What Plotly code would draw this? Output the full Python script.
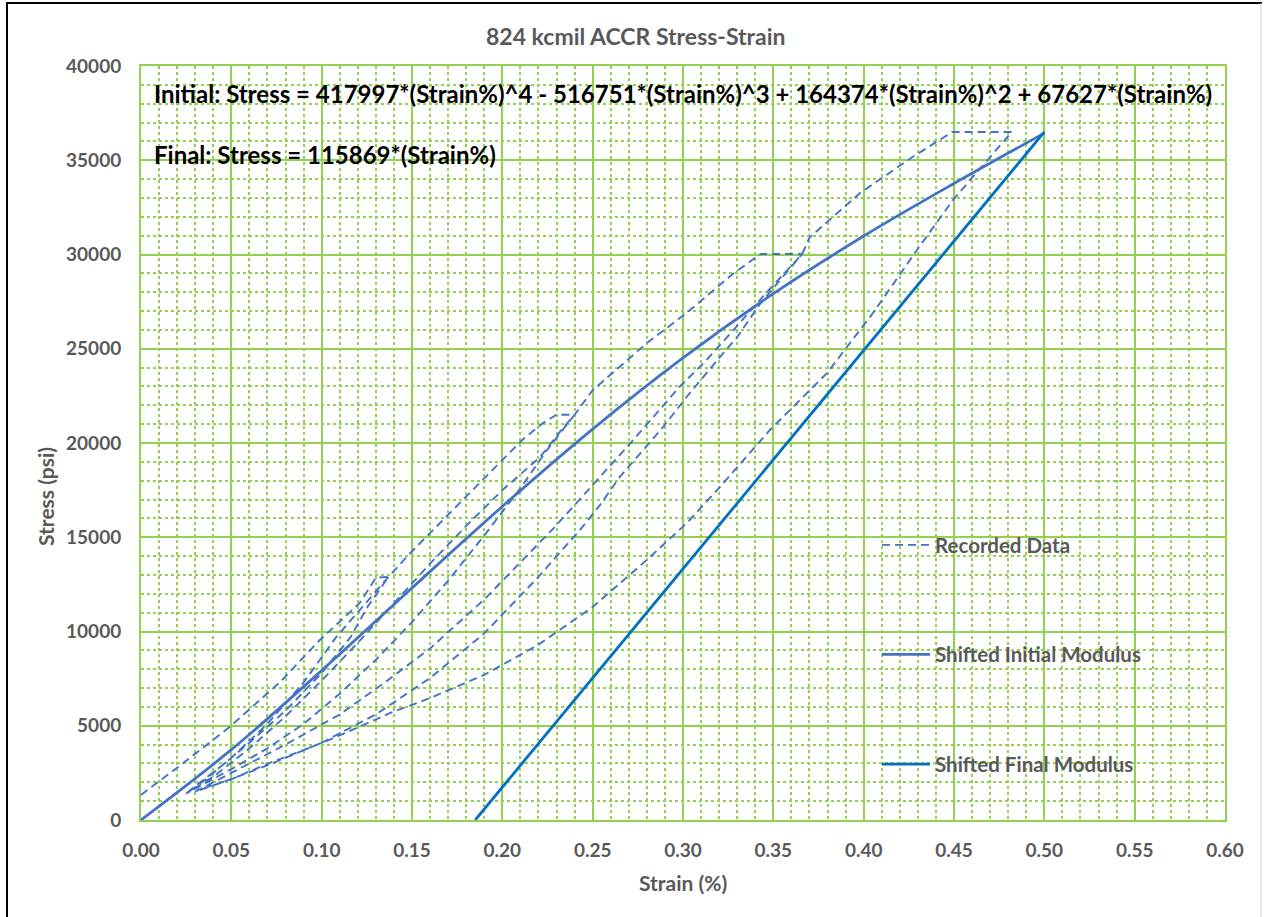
import plotly.graph_objects as go

# ---------------- data ----------------
# virgin loading segments (with holds)
load1_strain = [0.000, 0.022, 0.049, 0.077, 0.099, 0.121, 0.130, 0.137]
load1_stress = [1330, 2920, 4930, 7320, 9550, 11500, 12850, 12900]
unload1_strain = [0.137, 0.125, 0.116, 0.100, 0.080, 0.060, 0.045, 0.030, 0.025]
unload1_stress = [12900, 11250, 9700, 7800, 5800, 4100, 2900, 1800, 1400]
reload1_strain = [0.025, 0.035, 0.050, 0.070, 0.090, 0.108, 0.125, 0.137]
reload1_stress = [1400, 2100, 3300, 5100, 7300, 9700, 11600, 12900]

load2_strain = [0.137, 0.149, 0.178, 0.199, 0.211, 0.2225, 0.230, 0.240]
load2_stress = [12900, 14160, 16980, 19000, 20160, 21060, 21500, 21500]
unload2_strain = [0.240, 0.2375, 0.2245, 0.210, 0.190, 0.170, 0.150, 0.130, 0.110, 0.090, 0.070, 0.050, 0.035, 0.025]
unload2_stress = [21500, 21200, 19600, 17600, 15100, 12700, 10500, 8500, 6700, 5100, 3800, 2700, 1900, 1400]
reload2_strain = [0.025, 0.040, 0.060, 0.080, 0.100, 0.120, 0.140, 0.160, 0.180, 0.200, 0.221, 0.234, 0.240]
reload2_stress = [1400, 2300, 3800, 5500, 7400, 9400, 11500, 13600, 15600, 17500, 19260, 20850, 21500]

load3_strain = [0.240, 0.250, 0.280, 0.302, 0.328, 0.343, 0.366]
load3_stress = [21500, 22800, 25300, 26900, 29000, 30030, 30030]
unload3_strain = [0.366, 0.343, 0.330, 0.319, 0.302, 0.289, 0.278, 0.265, 0.254, 0.243, 0.220, 0.190, 0.160, 0.130, 0.100, 0.070, 0.045, 0.030]
unload3_stress = [30030, 27430, 25620, 24400, 22440, 20850, 19630, 18200, 16700, 15390, 12900, 9900, 7530, 5600, 4100, 2900, 2000, 1500]
reload3_strain = [0.030, 0.050, 0.080, 0.110, 0.135, 0.160, 0.190, 0.229, 0.271, 0.298, 0.313, 0.328, 0.346, 0.366]
reload3_stress = [1500, 2500, 4000, 5600, 7300, 9100, 11700, 15540, 20000, 22970, 24400, 26000, 27960, 30030]

load4_strain = [0.366, 0.370, 0.398, 0.427, 0.449, 0.482]
load4_stress = [30030, 30900, 33260, 35170, 36500, 36500]
unload4_strain = [0.482, 0.4494, 0.4295, 0.4052, 0.3797, 0.3481, 0.3205, 0.3022, 0.280, 0.250, 0.220, 0.190, 0.160, 0.138, 0.108, 0.090, 0.071, 0.049, 0.031]
unload4_stress = [36500, 32890, 30240, 26900, 23710, 20690, 17670, 15760, 13800, 11300, 9300, 7700, 6470, 5680, 4400, 3710, 3020, 2120, 1590]

# shifted initial modulus
init_strain = [0.00, 0.05, 0.10, 0.15, 0.20, 0.25, 0.30, 0.35, 0.40, 0.45, 0.50]
init_stress = [0, 3730, 7930, 12310, 16635, 20740, 24515, 27920, 30980, 33770, 36440]

# shifted final modulus
final_strain = [0.185, 0.500]
final_stress = [0, 36500]

x_ticks = [0.00, 0.05, 0.10, 0.15, 0.20, 0.25, 0.30, 0.35, 0.40, 0.45, 0.50, 0.55, 0.60]
y_ticks = [0, 5000, 10000, 15000, 20000, 25000, 30000, 35000, 40000]

title_text = "824 kcmil ACCR Stress-Strain"
eq_initial = "Initial: Stress = 417997*(Strain%)^4 - 516751*(Strain%)^3 + 164374*(Strain%)^2 + 67627*(Strain%)"
eq_final = "Final: Stress = 115869*(Strain%)"

# ---------------- build ----------------
segs_x = [load1_strain, unload1_strain, reload1_strain, load2_strain, unload2_strain,
          reload2_strain, load3_strain, unload3_strain, reload3_strain, load4_strain, unload4_strain]
segs_y = [load1_stress, unload1_stress, reload1_stress, load2_stress, unload2_stress,
          reload2_stress, load3_stress, unload3_stress, reload3_stress, load4_stress, unload4_stress]
rec_x, rec_y = [], []
for sx, sy in zip(segs_x, segs_y):
    rec_x += sx
    rec_y += sy

FONT = "Lato"
GRAY = "#595959"
GREEN = "#92D050"

fig = go.Figure()
fig.add_trace(go.Scatter(x=rec_x, y=rec_y, mode="lines", name="Recorded Data",
                         legendgroup="a",
                         line=dict(color="#4472C4", width=1.9, dash="8px,5px")))
fig.add_trace(go.Scatter(x=init_strain, y=init_stress, mode="lines", name="Shifted Initial Modulus",
                         legendgroup="b", line=dict(color="#4472C4", width=2.8, shape="spline")))
fig.add_trace(go.Scatter(x=final_strain, y=final_stress, mode="lines", name="Shifted Final Modulus",
                         legendgroup="c", line=dict(color="#0070C0", width=2.8)))

axis_common = dict(
    showgrid=True, gridcolor=GREEN, gridwidth=2,
    showline=True, linecolor=GREEN, linewidth=2, mirror=True,
    zeroline=False, ticks="",
    tickfont=dict(family=FONT, size=19, color=GRAY, weight="bold"),
)
fig.update_xaxes(range=[0, 0.6], tickvals=x_ticks, ticktext=[f"{v:.2f}" for v in x_ticks],
                 minor=dict(dtick=0.01, showgrid=True, gridcolor=GREEN, griddash="dot", gridwidth=1.5),
                 ticklabelstandoff=12, **axis_common)
fig.update_yaxes(range=[0, 40000], tickvals=y_ticks, ticktext=[str(v) for v in y_ticks],
                 minor=dict(dtick=1000, showgrid=True, gridcolor=GREEN, griddash="dot", gridwidth=1.5),
                 ticklabelstandoff=14, **axis_common)

W, H = 1265, 917
L, R, T, B = 141, 40, 66, 97
pw, ph = W - L - R, H - T - B

def px(x):
    return (x - L) / pw

def py(y):
    return (H - B - y) / ph

annotations = [
    dict(text=title_text, x=px(636), y=py(36), xref="paper", yref="paper", showarrow=False,
         xanchor="center", yanchor="middle", font=dict(family=FONT, size=23, color=GRAY, weight="bold")),
    dict(text=eq_initial, x=px(152), y=py(93), xref="paper", yref="paper", showarrow=False,
         xanchor="left", yanchor="middle", font=dict(family=FONT, size=24, color="black", weight="bold")),
    dict(text=eq_final, x=px(152), y=py(155), xref="paper", yref="paper", showarrow=False,
         xanchor="left", yanchor="middle", font=dict(family=FONT, size=24, color="black", weight="bold")),
    dict(text="Strain (%)", x=px(683), y=py(883), xref="paper", yref="paper", showarrow=False,
         xanchor="center", yanchor="middle", font=dict(family=FONT, size=21, color=GRAY, weight="bold")),
    dict(text="Stress (psi)", x=px(45), y=py(497), xref="paper", yref="paper", showarrow=False,
         textangle=-90, xanchor="center", yanchor="middle",
         font=dict(family=FONT, size=21, color=GRAY, weight="bold")),
]

shapes = [
    dict(type="line", xref="paper", yref="paper", x0=px(7), x1=px(7), y0=py(2), y1=py(930),
         line=dict(color="black", width=2)),
    dict(type="line", xref="paper", yref="paper", x0=px(6), x1=px(1262), y0=py(3), y1=py(3),
         line=dict(color="black", width=2)),
    dict(type="line", xref="paper", yref="paper", x0=px(1261), x1=px(1261), y0=py(3), y1=py(930),
         line=dict(color="#d0d0d0", width=1)),
]

fig.update_layout(
    width=W, height=H,
    margin=dict(l=L, r=R, t=T, b=B),
    paper_bgcolor="white", plot_bgcolor="white",
    showlegend=True,
    legend=dict(x=px(877), y=py(525), xanchor="left", yanchor="top",
                bgcolor="rgba(0,0,0,0)", tracegroupgap=80,
                font=dict(family=FONT, size=20.5, color=GRAY, weight="bold"),
                itemwidth=48),
    annotations=annotations,
    shapes=shapes,
)

fig.write_html("out.html")
